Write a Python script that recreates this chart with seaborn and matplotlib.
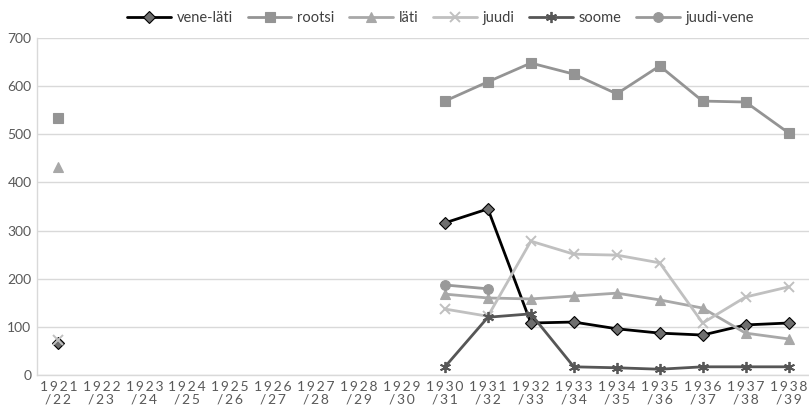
import numpy as np
import pandas as pd
import matplotlib
matplotlib.use("Agg")
import matplotlib.pyplot as plt
from matplotlib.lines import Line2D
import seaborn as sns

years = ["1921/22", "1922/23", "1923/24", "1924/25", "1925/26", "1926/27",
         "1927/28", "1928/29", "1929/30", "1930/31", "1931/32", "1932/33",
         "1933/34", "1934/35", "1935/36", "1936/37", "1937/38", "1938/39"]

nan = np.nan
vene_lati = [66, nan, nan, nan, nan, nan, nan, nan, nan, 316, 345, 108, 110, 96, 87, 83, 104, 108]
rootsi = [534, nan, nan, nan, nan, nan, nan, nan, nan, 569, 609, 648, 625, 584, 642, 569, 567, 503]
lati = [432, nan, nan, nan, nan, nan, nan, nan, nan, 168, 160, 158, 164, 170, 156, 139, 87, 75]
juudi = [73, nan, nan, nan, nan, nan, nan, nan, nan, 137, 122, 278, 251, 249, 233, 108, 162, 183]
soome = [nan, nan, nan, nan, nan, nan, nan, nan, nan, 17, 120, 127, 17, 15, 12, 17, 17, 17]
juudi_vene = [nan, nan, nan, nan, nan, nan, nan, nan, nan, 187, 179, nan, nan, nan, nan, nan, nan, nan]

series = {
    "vene-läti": vene_lati,
    "rootsi": rootsi,
    "läti": lati,
    "juudi": juudi,
    "soome": soome,
    "juudi-vene": juudi_vene,
}

styles = {
    "vene-läti": dict(color="#000000", marker="D", mfc="#6e6e6e", mec="#000000", ms=6.0, mew=0.8, lw=2.0),
    "rootsi": dict(color="#949494", marker="s", mfc="#949494", mec="#949494", ms=6.5, mew=0.8, lw=2.0),
    "läti": dict(color="#a8a8a8", marker="^", mfc="#a8a8a8", mec="#a8a8a8", ms=7.0, mew=0.8, lw=2.0),
    "juudi": dict(color="#c0c0c0", marker="x", mfc="#c0c0c0", mec="#c0c0c0", ms=7.0, mew=1.4, lw=2.0),
    "soome": dict(color="#565656", marker=(6, 2, 0), mfc="#565656", mec="#565656", ms=8.0, mew=1.3, lw=2.0),
    "juudi-vene": dict(color="#999999", marker="o", mfc="#999999", mec="#999999", ms=7.0, mew=0.8, lw=2.0),
}

# Long table; each unbroken run of values gets its own segment id
rows = []
for name, vals in series.items():
    seg = 0
    prev_nan = True
    for i, v in enumerate(vals):
        if np.isnan(v):
            prev_nan = True
            continue
        if prev_nan:
            seg += 1
        prev_nan = False
        rows.append({"serie": name, "pos": i, "value": v, "seg": seg})
df = pd.DataFrame(rows)

sns.set_theme(style="white")
plt.rcParams["font.family"] = ["Lato", "DejaVu Sans"]

fig = plt.figure(figsize=(8.09, 4.05), dpi=100)
ax = fig.add_axes([37 / 809, 30 / 405, 773 / 809, 337 / 405])

for name in series:
    st = styles[name]
    sub = df[df["serie"] == name]
    sns.lineplot(data=sub, x="pos", y="value", units="seg", estimator=None,
                 ax=ax, color=st["color"], lw=st["lw"], marker=st["marker"],
                 markersize=st["ms"], markerfacecolor=st["mfc"],
                 markeredgecolor=st["mec"], markeredgewidth=st["mew"],
                 legend=False, zorder=3)

ax.set_xlim(-0.5, len(years) - 0.5)
ax.set_ylim(0, 700)
ax.set_yticks(range(0, 701, 100))
ax.set_xticks(range(len(years)))
gap = "\u2009"
spaced = []
for y in years:
    a, b = y.split("/")
    spaced.append(gap.join(a) + "\n/" + gap + gap.join(b))
ax.set_xticklabels(spaced, linespacing=1.05)
ax.tick_params(axis="both", labelsize=10, labelcolor="#595959", length=0, pad=4)
ax.set_xlabel("")
ax.set_ylabel("")
ax.yaxis.grid(True, color="#d9d9d9", lw=1)
ax.set_axisbelow(True)
for s in ["top", "right"]:
    ax.spines[s].set_visible(False)
ax.spines["left"].set_color("#d9d9d9")
ax.spines["bottom"].set_color("#d9d9d9")
ax.spines["left"].set_linewidth(1)
ax.spines["bottom"].set_linewidth(1)

handles = []
for name in series:
    st = styles[name]
    handles.append(Line2D([0], [0], color=st["color"], lw=st["lw"], marker=st["marker"],
                          markersize=st["ms"], markerfacecolor=st["mfc"],
                          markeredgecolor=st["mec"], markeredgewidth=st["mew"]))
fig.legend(handles, list(series.keys()), loc="center", bbox_to_anchor=(0.545, 0.955),
           ncol=6, frameon=False, fontsize=10.5, handlelength=3.0, columnspacing=1.0,
           handletextpad=0.4, labelcolor="#404040")

fig.savefig("out.png", dpi=100)
